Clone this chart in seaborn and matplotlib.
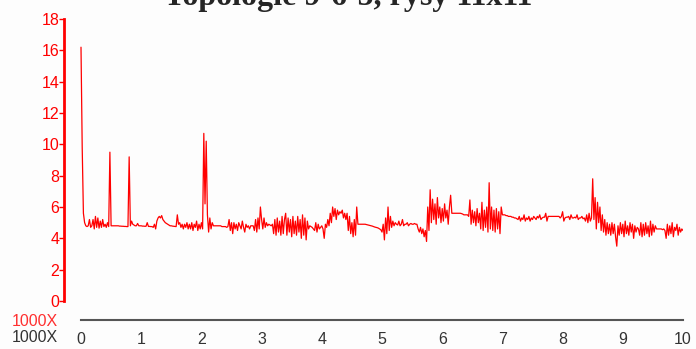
import numpy as np
import pandas as pd
import matplotlib
matplotlib.use("Agg")
import matplotlib.pyplot as plt
import seaborn as sns

# Training error sampled every 20 iterations (x axis in thousands of iterations)
STEP = 0.02
error = [
    16.2, 9.8, 5.6, 5.0, 4.8, 4.75, 4.8, 5.2, 4.7, 4.8,
    5.2, 4.6, 5.4, 4.7, 5.3, 4.65, 5.1, 4.7, 5.2, 4.75,
    4.9, 4.7, 5.0, 4.75, 9.5, 4.8, 4.8, 4.8, 4.8, 4.8,
    4.8, 4.8, 4.78, 4.78, 4.77, 4.77, 4.76, 4.76, 4.75, 4.75,
    9.2, 4.8, 5.1, 4.9, 4.85, 4.8, 4.8, 4.95, 4.8, 4.8,
    4.8, 4.78, 4.78, 4.77, 4.77, 5.0, 4.76, 4.76, 4.75, 4.75,
    4.7, 4.9, 4.6, 5.1, 5.3, 5.4, 5.3, 5.45, 5.2, 5.1,
    5.0, 4.95, 4.9, 4.85, 4.8, 4.8, 4.78, 4.77, 4.76, 4.75,
    5.5, 4.9, 5.0, 4.7, 4.9, 4.6, 4.9, 4.7, 5.0, 4.6,
    4.9, 4.6, 5.0, 4.5, 4.9, 4.7, 5.1, 4.5, 4.9, 4.6,
    5.0, 4.6, 10.7, 6.2, 10.2, 5.5, 4.4, 5.3, 4.6, 5.0,
    4.8, 4.8, 4.8, 4.8, 4.8, 4.8, 4.8, 4.75, 4.75, 4.75,
    4.75, 4.7, 4.75, 5.2, 4.5, 5.0, 4.3, 5.0, 4.6, 4.9,
    4.5, 5.0, 4.8, 4.6, 5.1, 4.7, 4.4, 4.9, 4.7, 4.8,
    4.6, 4.8, 4.8, 4.8, 4.5, 5.2, 4.4, 5.3, 4.6, 6.0,
    5.2, 4.6, 5.3, 4.7, 5.0, 4.8, 4.9, 4.85, 4.8, 4.9,
    4.3, 5.2, 4.2, 5.3, 4.4, 5.1, 4.2, 5.4, 4.3, 5.2,
    5.6, 4.2, 5.3, 4.4, 5.2, 4.1, 5.4, 4.3, 5.1, 4.2,
    5.4, 4.4, 5.2, 4.0, 5.5, 4.2, 5.3, 3.9, 5.1, 4.6,
    4.8, 4.75, 4.7, 4.6, 4.5, 5.0, 4.4, 4.9, 4.6, 4.7,
    4.8, 4.6, 4.0, 4.9, 4.7, 5.2, 4.8, 5.6, 5.0, 6.0,
    5.4, 5.9, 5.2, 5.8, 5.5, 5.7, 5.6, 5.8, 5.3, 5.6,
    5.2, 5.6, 4.5, 5.4, 4.3, 5.0, 4.1, 5.2, 4.2, 6.0,
    4.9, 4.9, 4.9, 4.9, 4.9, 4.9, 4.9, 4.88, 4.86, 4.84,
    4.82, 4.8, 4.78, 4.75, 4.72, 4.7, 4.68, 4.65, 4.6, 4.55,
    4.4, 4.9, 3.9, 5.3, 4.3, 6.0, 4.5, 5.4, 4.7, 5.1,
    4.8, 5.0, 4.9, 4.85, 5.1, 4.8, 4.9, 5.2, 4.8, 4.9,
    4.9, 5.0, 4.8, 4.9, 4.95, 4.9, 4.9, 4.95, 4.9, 4.9,
    4.6, 4.4, 4.7, 4.3, 4.6, 4.1, 4.5, 3.8, 6.0, 4.5,
    7.1, 5.0, 6.5, 5.2, 6.2, 4.9, 6.6, 5.3, 6.0, 5.0,
    5.9, 5.1, 6.2, 5.3, 5.8, 4.9, 6.0, 6.75, 5.6, 5.6,
    5.6, 5.6, 5.6, 5.6, 5.6, 5.6, 5.58, 5.55, 5.5, 5.5,
    5.5, 5.5, 5.4, 6.45, 4.9, 5.8, 5.0, 5.7, 4.8, 5.9,
    5.0, 5.6, 4.6, 6.3, 4.5, 5.8, 4.7, 6.0, 4.4, 7.55,
    4.6, 6.0, 4.5, 5.8, 4.4, 5.9, 4.6, 5.7, 4.3, 6.0,
    5.5, 5.5, 5.5, 5.45, 5.45, 5.4, 5.4, 5.4, 5.35, 5.35,
    5.3, 5.3, 5.25, 5.2, 5.4, 5.1, 5.3, 5.2, 5.5, 5.1,
    5.3, 5.2, 5.4, 5.1, 5.3, 5.2, 5.4, 5.3, 5.2, 5.4,
    5.3, 5.5, 5.2, 5.3, 5.35, 5.35, 5.6, 5.1, 5.4, 5.4,
    5.4, 5.4, 5.4, 5.4, 5.4, 5.4, 5.4, 5.4, 5.3, 5.4,
    5.7, 5.1, 5.3, 5.35, 5.35, 5.4, 5.2, 5.5, 5.3, 5.3,
    5.35, 5.3, 5.5, 5.2, 5.3, 5.3, 5.4, 5.25, 5.3, 5.1,
    5.5, 5.0, 5.6, 5.1, 5.3, 7.8, 5.2, 6.6, 4.6, 6.3,
    5.0, 6.0, 4.5, 5.5, 4.4, 5.2, 4.2, 5.0, 4.3, 4.9,
    4.2, 5.0, 4.3, 4.9, 4.1, 3.5, 4.8, 4.2, 5.0, 4.3,
    4.9, 4.1, 5.1, 4.3, 4.8, 4.2, 5.0, 4.4, 4.9, 4.0,
    4.8, 4.4, 4.7, 4.6, 4.2, 5.0, 4.1, 4.9, 4.2, 5.0,
    4.3, 4.8, 4.1, 5.1, 4.2, 4.9, 4.4, 4.8, 4.6, 4.6,
    4.6, 4.6, 4.6, 4.55, 4.6, 4.5, 4.0, 4.9, 4.2, 4.8,
    4.3, 5.0, 4.1, 4.7, 4.5, 4.9, 4.2, 4.7, 4.4, 4.6,
    4.5,
]
steps = np.arange(len(error)) * STEP

x_ticks = [0, 1, 2, 3, 4, 5, 6, 7, 8, 9, 10]
y_ticks = [0, 2, 4, 6, 8, 10, 12, 14, 16, 18]
title = "Topologie 9-6-5, rysy 11x11"
axis_unit = "1000X"

df = pd.DataFrame({"step": steps, "error": error})

sns.set_style("white")
plt.rcParams["font.family"] = ["Liberation Sans", "DejaVu Sans"]

W, H = 696, 349
fig = plt.figure(figsize=(W / 100, H / 100), dpi=100)
fig.patch.set_facecolor("#fdfdfd")

# axes spans from the y spine (px 64) to x=10 (px 683), from px 18 to the x axis (px 320)
ax = fig.add_axes([64 / W, (H - 320) / H, (683 - 64) / W, (320 - 18) / H])
ax.set_facecolor("#fdfdfd")

sns.lineplot(data=df, x="step", y="error", ax=ax, color="#ff0000",
             linewidth=0.9, estimator=None, sort=False)

px_per_x = (683 - 81) / 10
px_per_y = (301 - 19) / 18
ax.set_xlim(-(81 - 64) / px_per_x, 10)
ax.set_ylim(-(320 - 301) / px_per_y, 18 + (19 - 18) / px_per_y)

for side in ["top", "right"]:
    ax.spines[side].set_visible(False)
ax.spines["left"].set_color("#ff0000")
ax.spines["left"].set_linewidth(2)
ax.spines["left"].set_bounds(0, 18)
ax.spines["bottom"].set_color("#555555")
ax.spines["bottom"].set_linewidth(1.5)
ax.spines["bottom"].set_bounds(0, 10)

ax.set_yticks(y_ticks)
ax.set_xticks(x_ticks)
ax.tick_params(axis="y", colors="#ff0000", length=3.5, width=1, pad=0,
               labelsize=11.5, left=True)
ax.tick_params(axis="x", colors="#333333", length=0, pad=9, labelsize=11.5)
ax.set_xlabel("")
ax.set_ylabel("")

fig.text(12 / W, (H - 321) / H, axis_unit, color="#ff3030", fontsize=11.5,
         ha="left", va="center")
fig.text(12 / W, (H - 337) / H, axis_unit, color="#333333", fontsize=11.5,
         ha="left", va="center")

# title is cropped at the top edge, as in the original chart
fig.text(348 / W, (H - 4.5) / H, title, ha="center", va="baseline",
         fontsize=23, fontweight="bold", family=["Liberation Serif", "DejaVu Serif"])

fig.savefig("out.png", dpi=100, facecolor=fig.get_facecolor())
